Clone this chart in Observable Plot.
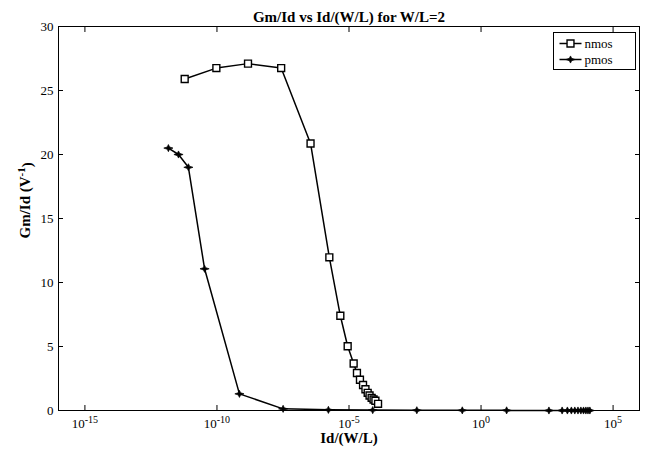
<!DOCTYPE html>
<html><head><meta charset="utf-8">
<script src="https://cdn.jsdelivr.net/npm/d3@7"></script>
<script src="https://cdn.jsdelivr.net/npm/@observablehq/plot@0.6"></script>
<style>body{margin:0;background:#fff} svg text{font-family:"Liberation Serif","Times New Roman",serif;}</style>
</head><body><div id="chart"></div>
<script>
const title = "Gm/Id vs Id/(W/L) for W/L=2";
const xLabel = "Id/(W/L)";
const yLabelText = "Gm/Id (V";
const yLabelSup = "-1";
const xTicks = [1e-15, 1e-10, 1e-5, 1, 1e5];
const yTicks = [0, 5, 10, 15, 20, 25, 30];
const seriesNames = ["nmos", "pmos"];

const nmosX = [6.0e-12, 9.5e-11, 1.5e-9, 2.7e-8, 3.5e-7, 1.8e-6, 4.7e-6, 8.9e-6, 1.5e-5, 2.0e-5, 2.6e-5, 3.4e-5, 4.2e-5, 5.1e-5, 6.0e-5, 7.2e-5, 8.5e-5, 1.0e-4, 1.26e-4];
const nmosY = [25.9, 26.75, 27.1, 26.75, 20.86, 11.97, 7.4, 5.02, 3.67, 2.93, 2.4, 1.99, 1.66, 1.38, 1.17, 0.99, 0.86, 0.76, 0.52];

const pmosX = [1.45e-12, 3.5e-12, 8.3e-12, 3.4e-11, 7.1e-10, 3.2e-8, 1.66e-6, 7.9e-5, 3.7e-3, 0.195, 9.3, 372, 1175, 1860, 2630, 3550, 4680, 6030, 7590, 9330, 11200, 13200];
const pmosY = [20.5, 20.0, 19.0, 11.07, 1.3, 0.13, 0.05, 0.03, 0.02, 0.01, 0.01, 0, 0, 0, 0, 0, 0, 0, 0, 0, 0, 0];

const nmos = nmosX.map((x, i) => ({x, y: nmosY[i]}));
const pmos = pmosX.map((x, i) => ({x, y: pmosY[i]}));

const FONT = "Liberation Serif";

const star = {
  draw(ctx, size) {
    const r = Math.sqrt(size / Math.PI);
    const w = r * 1.35, h = r * 1.05, k = r * 0.34;
    ctx.moveTo(-w, 0); ctx.lineTo(-k, -k); ctx.lineTo(0, -h); ctx.lineTo(k, -k);
    ctx.lineTo(w, 0); ctx.lineTo(k, k); ctx.lineTo(0, h); ctx.lineTo(-k, k); ctx.closePath();
  }
};

const W = 651, H = 454;
const mL = 58, mR = 12, mT = 26, mB = 44;

const svg = Plot.plot({
  width: W, height: H,
  marginLeft: mL, marginRight: mR, marginTop: mT, marginBottom: mB,
  style: {fontFamily: FONT, fontSize: "13px", background: "white", color: "black"},
  x: {type: "log", domain: [1e-16, 1e6]},
  y: {domain: [0, 30]},
  marks: [
    Plot.axisX({anchor: "bottom", ticks: xTicks, tickSize: 0, tickPadding: 8, fontFamily: FONT, fontSize: 13, tickFormat: d => String(Math.round(Math.log10(d))), label: null}),
    Plot.axisY({anchor: "left", ticks: yTicks, tickSize: 0, tickPadding: 5, fontFamily: FONT, fontSize: 13, label: null}),
    Plot.axisX({anchor: "bottom", ticks: xTicks, tickSize: -5, fill: "none", label: null}),
    Plot.axisX({anchor: "top", ticks: xTicks, tickSize: -5, fill: "none", label: null}),
    Plot.axisY({anchor: "left", ticks: yTicks, tickSize: -5, fill: "none", label: null}),
    Plot.axisY({anchor: "right", ticks: yTicks, tickSize: -5, fill: "none", label: null}),
    Plot.frame({stroke: "black", strokeWidth: 1}),
    Plot.line(pmos, {x: "x", y: "y", stroke: "black", strokeWidth: 1.5}),
    Plot.dot(pmos, {x: "x", y: "y", symbol: star, r: 3.4, fill: "black", stroke: "black", strokeWidth: 0.7}),
    Plot.line(nmos, {x: "x", y: "y", stroke: "black", strokeWidth: 1.5}),
    Plot.dot(nmos, {x: "x", y: "y", symbol: "square", r: 3.9, fill: "white", stroke: "black", strokeWidth: 1.4}),
    Plot.text([title], {frameAnchor: "top", dy: -15, fontWeight: "bold", fontSize: 15, fontFamily: FONT}),
    Plot.text([xLabel], {frameAnchor: "bottom", dy: 32, fontWeight: "bold", fontSize: 15, fontFamily: FONT}),
    Plot.text([yLabelText], {frameAnchor: "left", dx: -33, dy: 20, rotate: -90, fontWeight: "bold", fontSize: 15, fontFamily: FONT})
  ]
});

const s = d3.select(svg);
// superscript exponents on x tick labels
s.selectAll('g[aria-label="x-axis tick label"] text').each(function() {
  const e = this.textContent;
  const t = d3.select(this);
  t.text(null);
  t.append("tspan").text("10");
  t.append("tspan").attr("dy", "-0.5em").attr("font-size", "10px").text(e);
});
// superscript in y label
s.selectAll("text").filter(function() { return this.textContent === yLabelText; }).each(function() {
  const t = d3.select(this);
  t.text(null);
  t.append("tspan").text(yLabelText);
  t.append("tspan").attr("dy", "-0.5em").attr("font-size", "11px").text(yLabelSup);
  t.append("tspan").attr("dy", "0.5em").text(")");
});

// legend
const lx = 553.5, ly = 32.5, lw = 82, lh = 37;
const lg = s.append("g").attr("aria-label", "legend");
lg.append("rect").attr("x", lx).attr("y", ly).attr("width", lw).attr("height", lh)
  .attr("fill", "white").attr("stroke", "black").attr("stroke-width", 1);
const rows = [ly + 11, ly + 27];
seriesNames.forEach((name, i) => {
  const yy = rows[i];
  lg.append("line").attr("x1", lx + 6).attr("x2", lx + 28).attr("y1", yy).attr("y2", yy)
    .attr("stroke", "black").attr("stroke-width", 1.5);
  const sym = i === 0 ? d3.symbolSquare : star;
  const r = i === 0 ? 3.9 : 3.4;
  lg.append("path").attr("d", d3.symbol(sym, Math.PI * r * r)())
    .attr("transform", `translate(${lx + 17},${yy})`)
    .attr("fill", i === 0 ? "white" : "black").attr("stroke", "black")
    .attr("stroke-width", i === 0 ? 1.4 : 0.7);
  lg.append("text").attr("x", lx + 31).attr("y", yy).attr("dy", "0.35em")
    .attr("text-anchor", "start").attr("font-family", FONT)
    .attr("font-size", "13px").text(name);
});

document.getElementById("chart").appendChild(svg);
</script>
</body></html>
